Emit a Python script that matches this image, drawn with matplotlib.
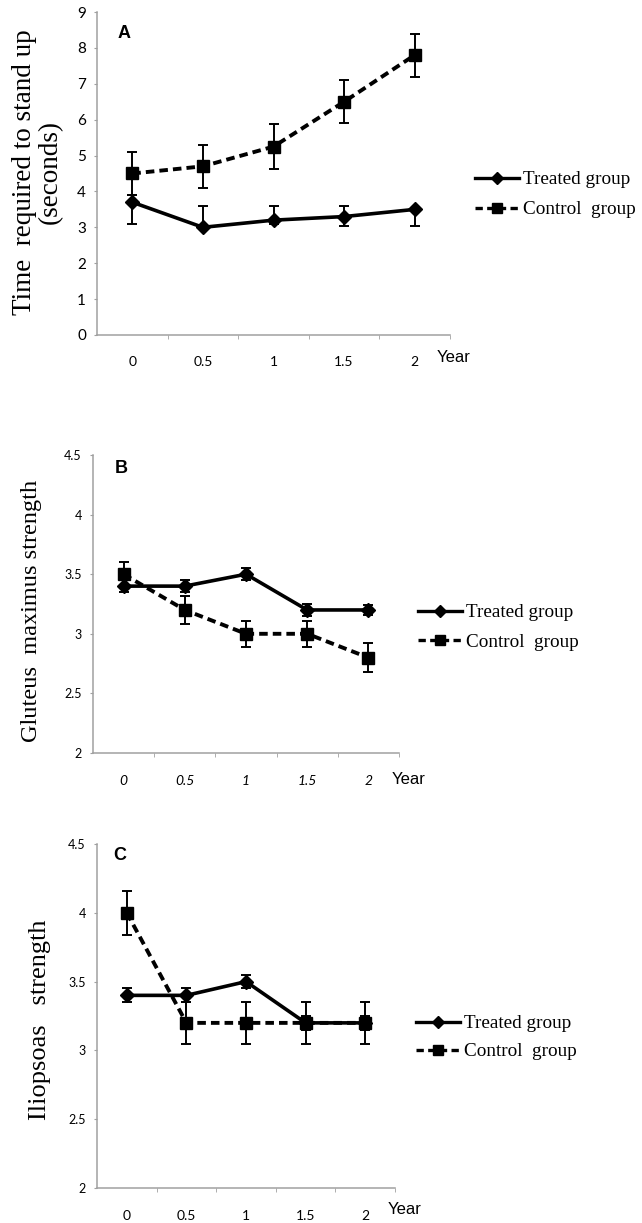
import matplotlib
matplotlib.use("Agg")
import matplotlib.pyplot as plt
from matplotlib.lines import Line2D

years = ["0", "0.5", "1", "1.5", "2"]

# panel A: time required to stand up (s)
a_treated = [3.7, 3.0, 3.2, 3.3, 3.5]
a_treated_lo = [0.6, 0.0, 0.1, 0.25, 0.45]
a_treated_hi = [0.2, 0.6, 0.4, 0.3, 0.0]
a_control = [4.5, 4.7, 5.25, 6.5, 7.8]
a_control_err = [0.6, 0.6, 0.63, 0.6, 0.6]

# panel B: gluteus maximus strength
b_treated = [3.4, 3.4, 3.5, 3.2, 3.2]
b_treated_err = [0.05, 0.05, 0.05, 0.05, 0.04]
b_control = [3.5, 3.2, 3.0, 3.0, 2.8]
b_control_err = [0.1, 0.12, 0.11, 0.11, 0.12]

# panel C: iliopsoas strength
c_treated = [3.4, 3.4, 3.5, 3.2, 3.2]
c_treated_err = [0.05, 0.05, 0.05, 0.05, 0.05]
c_control = [4.0, 3.2, 3.2, 3.2, 3.2]
c_control_err = [0.16, 0.15, 0.15, 0.15, 0.15]

W, H = 642, 1223
fig = plt.figure(figsize=(W / 100, H / 100), dpi=100)

def box(l, r, t, b):
    return [l / W, 1 - b / H, (r - l) / W, (b - t) / H]

tickfont = "Lato"
grey = "#a0a0a0"
dash = (0, (2.2, 1.3))

def panel(rect, tre, tre_err, con, con_err, ylim, yticks, yfs, letter, letpos,
          italic, xpad, year_off, leg_pos, leg_sp):
    ax = fig.add_axes(rect)
    x = list(range(len(years)))
    ax.errorbar(x, tre, yerr=tre_err, color="black", lw=2.6, marker="D", ms=7,
                ecolor="black", elinewidth=1.4, capsize=3.5, capthick=1.4, zorder=3)
    ax.errorbar(x, con, yerr=con_err, color="black", lw=2.8, ls=dash,
                marker="s", ms=8, ecolor="black", elinewidth=1.4, capsize=3.5,
                capthick=1.4, zorder=3)
    ax.set_xlim(-0.5, 4.5)
    ax.set_ylim(*ylim)
    ax.set_yticks(yticks)
    ax.set_yticklabels([("%g" % v) for v in yticks], fontfamily=tickfont, fontsize=yfs)
    ax.set_xticks(x)
    ax.set_xticklabels(years, fontfamily=tickfont, fontsize=10,
                       fontstyle="italic" if italic else "normal")
    ax.set_xticks([0.5, 1.5, 2.5, 3.5, 4.5], minor=True)
    ax.tick_params(axis="x", which="major", length=0, pad=xpad)
    ax.tick_params(axis="x", which="minor", length=3, color=grey, direction="out")
    ax.tick_params(axis="y", length=2, color=grey, pad=6, direction="out")
    for s in ["top", "right"]:
        ax.spines[s].set_visible(False)
    for s in ["left", "bottom"]:
        ax.spines[s].set_color(grey)
        ax.spines[s].set_linewidth(1.1)
    ax.text(letpos[0], letpos[1], letter, transform=ax.transAxes, fontsize=13,
            fontweight="bold", fontfamily="Liberation Sans", va="top", ha="left")
    ax.annotate("Year", xy=(1, 0), xycoords="axes fraction", xytext=year_off,
                textcoords="offset pixels", fontsize=12, fontfamily="Liberation Sans",
                va="center", ha="left")
    handles = [Line2D([], [], color="black", lw=2.4, marker="D", ms=6),
               Line2D([], [], color="black", lw=2.4, ls=dash, marker="s", ms=7)]
    ax.legend(handles, ["Treated group", "Control  group"], loc="upper left",
              bbox_to_anchor=(leg_pos[0] / W, 1 - leg_pos[1] / H),
              bbox_transform=fig.transFigure, frameon=False, borderpad=0,
              borderaxespad=0, handlelength=2.3, handletextpad=0.2,
              labelspacing=leg_sp, prop={"family": "Liberation Serif", "size": 13.8})
    return ax

panel(box(97, 450, 12, 335), a_treated, [a_treated_lo, a_treated_hi], a_control,
      a_control_err, (0, 9), list(range(10)), 11, "A", (0.057, 0.96), False, 15,
      (-13, -23), (475, 171), 0.65)
panel(box(93, 399, 455, 753), b_treated, b_treated_err, b_control, b_control_err,
      (2, 4.5), [2, 2.5, 3, 3.5, 4, 4.5], 9, "B", (0.072, 0.983), True, 16,
      (-7, -27), (418, 604), 0.62)
panel(box(97, 395, 844, 1188), c_treated, c_treated_err, c_control, c_control_err,
      (2, 4.5), [2, 2.5, 3, 3.5, 4, 4.5], 9, "C", (0.054, 0.991), False, 16,
      (-7, -22), (416, 1015), 0.55)

serif = "Liberation Serif"
fig.text(37 / W, 1 - 172 / H, "Time  required to stand up\n(seconds)", rotation=90,
         ha="center", va="center", fontsize=19.5, fontfamily=serif, linespacing=1.05)
fig.text(32 / W, 1 - 611 / H, "Gluteus  maximus strength", rotation=90,
         ha="center", va="center", fontsize=17.5, fontfamily=serif)
fig.text(40 / W, 1 - 1020 / H, "Iliopsoas   strength", rotation=90,
         ha="center", va="center", fontsize=19, fontfamily=serif)

fig.savefig("out.png", dpi=100)
